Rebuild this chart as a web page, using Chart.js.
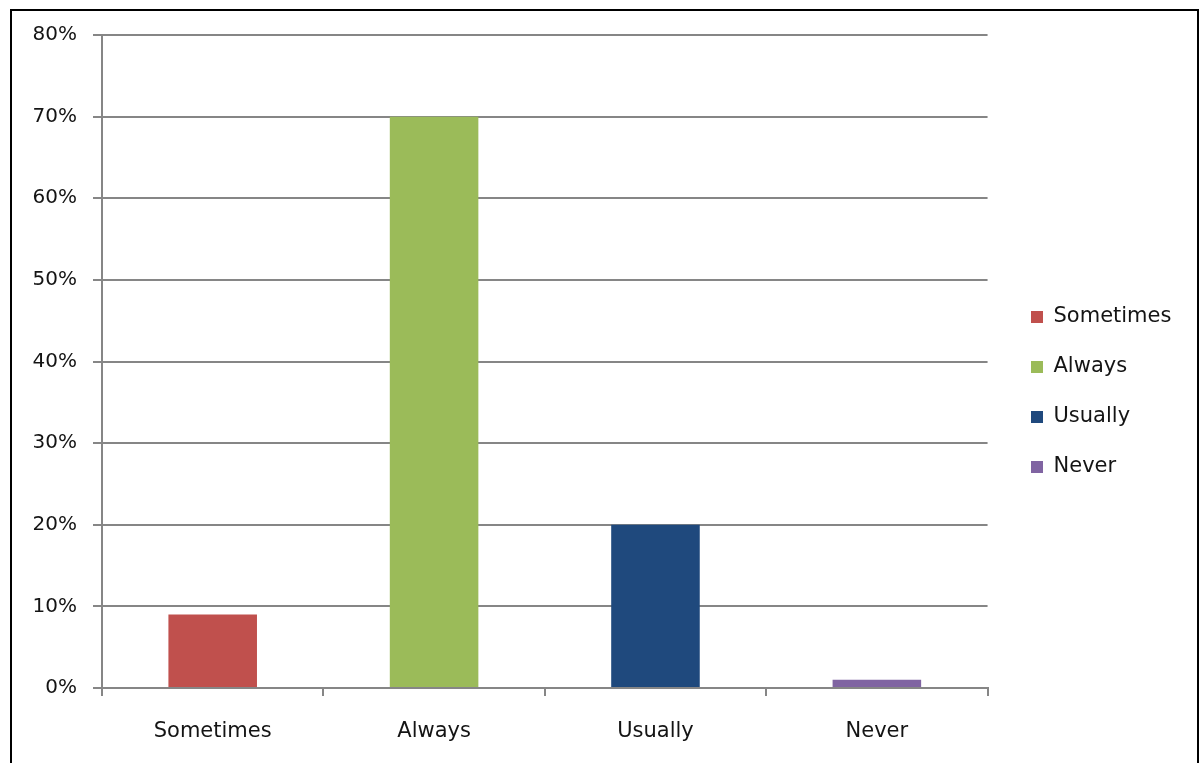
<!DOCTYPE html>
<html>
<head>
<meta charset="utf-8">
<script src="https://cdn.jsdelivr.net/npm/chart.js@4.4.1/dist/chart.umd.min.js"></script>
<style>
  html, body { margin: 0; padding: 0; background: #fff; width: 1202px; height: 763px; overflow: hidden; }
  #frame { position: absolute; left: 10px; top: 9px; width: 1185px; height: 770px; border: 2px solid #000; border-bottom: none; }
  #chart { position: absolute; left: 0; top: 0; }
</style>
</head>
<body>
<div id="frame"></div>
<canvas id="chart" width="1202" height="763"></canvas>
<script>
// Survey answers (share of respondents, %)
const categories = ['Sometimes', 'Always', 'Usually', 'Never'];
const shares = [9, 70, 20, 1];
const seriesColors = ['#C0504D', '#9BBB59', '#1F497D', '#8064A2'];
const yTickValues = [0, 10, 20, 30, 40, 50, 60, 70, 80];

const textColor = '#141414';
const gridColor = '#868686';
const fontFamily = '"DejaVu Sans", Verdana, sans-serif';

// One series per answer, each sitting in its own category slot
const datasets = categories.map((name, i) => ({
  label: name,
  data: categories.map((_, j) => (j === i ? shares[i] : null)),
  backgroundColor: seriesColors[i],
  borderColor: seriesColors[i],
  borderWidth: 0
}));

// Places the legend block to the right of the plot, level with the middle rows
const legendPlacement = {
  id: 'legendPlacement',
  afterLayout(chart) {
    const lg = chart.legend;
    const pad = lg.options.labels.padding;
    const size = lg.options.labels.font.size;
    lg.left = 1031 - pad;
    lg.right = chart.width;
    lg.top = 317 - size / 2 - pad;
    lg.width = lg.right - lg.left;
  }
};

new Chart(document.getElementById('chart'), {
  type: 'bar',
  data: { labels: categories, datasets },
  plugins: [legendPlacement],
  options: {
    responsive: false,
    animation: false,
    layout: { padding: { top: 35, left: 0, bottom: 0, right: 35 } },
    datasets: {
      bar: { grouped: false, barPercentage: 0.4, categoryPercentage: 1.0 }
    },
    plugins: {
      tooltip: { enabled: false },
      legend: {
        position: 'right',
        align: 'start',
        labels: {
          boxWidth: 12,
          boxHeight: 12,
          padding: 29,
          color: textColor,
          font: { family: fontFamily, size: 21 }
        }
      }
    },
    scales: {
      x: {
        offset: true,
        grid: {
          display: true,
          drawOnChartArea: false,
          drawTicks: true,
          tickLength: 8,
          color: gridColor,
          lineWidth: 2,
          offset: true
        },
        border: { display: true, color: gridColor, width: 2 },
        ticks: {
          color: textColor,
          padding: 23,
          font: { family: fontFamily, size: 21 }
        },
        afterFit(scale) { scale.height = 75; }
      },
      y: {
        min: 0,
        max: 80,
        afterBuildTicks(scale) { scale.ticks = yTickValues.map(v => ({ value: v })); },
        grid: {
          color: gridColor,
          lineWidth: 2,
          tickLength: 9,
          drawTicks: true
        },
        border: { display: true, color: gridColor, width: 2 },
        ticks: {
          color: textColor,
          padding: 16,
          font: { family: fontFamily, size: 20 },
          callback: v => v + '%'
        },
        afterFit(scale) { scale.width = 102; }
      }
    }
  }
});
</script>
</body>
</html>
